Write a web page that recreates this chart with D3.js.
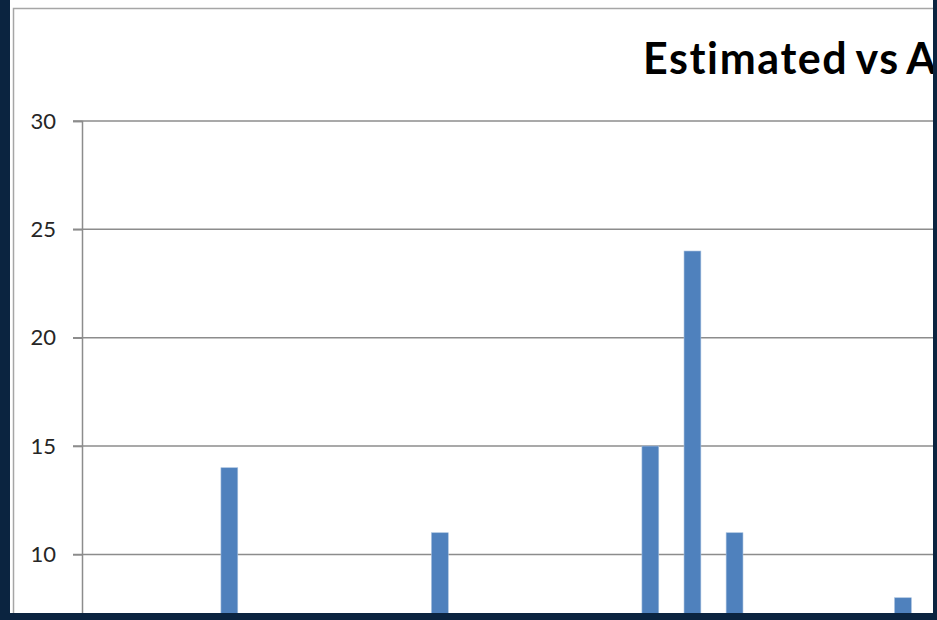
<!DOCTYPE html>
<html>
<head>
<meta charset="utf-8">
<script src="https://cdn.jsdelivr.net/npm/d3@7"></script>
<style>
  html, body { margin: 0; padding: 0; background: #0b2440; }
  svg { display: block; }
</style>
</head>
<body>
<svg id="chart" width="937" height="620"></svg>
<script>
// categories along the x axis (labels sit below the visible crop)
let categories = d3.range(1, 22).map(d => 'Item ' + d)
// estimated values, null where there is no bar
let estimated = [null, null, null, 14, null, null, null, null, 11, null,
                 null, null, null, 15, 24, 11, null, null, null, 8, null]
let yTicks = [10, 15, 20, 25, 30]
let titleText = 'Estimated vs Actual'

let data = categories.map((c, i) => ({cat: c, value: estimated[i]}))

let svg = d3.select('svg#chart')

// white chart sheet
svg.append('rect')
  .attr('x', 10).attr('y', 0)
  .attr('width', 925).attr('height', 614)
  .attr('fill', 'white')

// outer chart border
svg.append('rect')
  .attr('x', 13.5).attr('y', 8.5)
  .attr('width', 960).attr('height', 700)
  .attr('fill', 'none')
  .attr('stroke', '#a6a6a6')
  .attr('stroke-width', 1.5)

let plotLeft = 82, plotTop = 121, step = 42.1

let xScale = d3.scaleBand()
  .domain(categories)
  .range([plotLeft, plotLeft + step * categories.length])
  .paddingInner(0.6)
  .paddingOuter(0.3)

let yScale = d3.scaleLinear()
  .domain([0, 30])
  .range([plotTop + 30 * 21.67, plotTop])

// gridlines
svg.append('g')
  .attr('class', 'grid')
  .selectAll('line')
  .data(yTicks)
  .enter()
  .append('line')
  .attr('x1', plotLeft - 9)
  .attr('x2', 1000)
  .attr('y1', d => yScale(d))
  .attr('y2', d => yScale(d))
  .attr('stroke', '#8c8c8c')
  .attr('stroke-width', 1.5)

// y axis
let yAxis = svg.append('g')
  .attr('transform', `translate(${plotLeft}, 0)`)
  .call(d3.axisLeft(yScale).tickValues(yTicks).tickSize(9).tickPadding(17))

yAxis.select('.domain').attr('stroke', '#8c8c8c').attr('stroke-width', 1.5)
yAxis.selectAll('.tick line').attr('stroke', '#8c8c8c').attr('stroke-width', 1.5)
yAxis.selectAll('.tick text')
  .attr('font-family', 'Lato, sans-serif')
  .attr('font-size', 22)
  .attr('fill', '#262626')

// bars
svg.selectAll('.bar')
  .data(data.filter(d => d.value != null))
  .enter()
  .append('rect')
  .attr('class', 'bar')
  .attr('x', d => xScale(d.cat))
  .attr('y', d => yScale(d.value))
  .attr('width', xScale.bandwidth())
  .attr('height', d => yScale(0) - yScale(d.value))
  .attr('fill', '#4f81bd')
  .attr('stroke', '#a7c0de')
  .attr('stroke-width', 0.6)

// title (runs off the right edge, as in the cropped screenshot)
svg.append('text')
  .attr('x', 643)
  .attr('y', 74)
  .attr('font-family', 'Lato, sans-serif')
  .attr('font-size', 43)
  .attr('font-weight', 'bold')
  .attr('letter-spacing', 1.6)
  .attr('word-spacing', -4)
  .attr('fill', '#000')
  .text(titleText)

// dark frame around the cropped screenshot
svg.append('rect').attr('x', 0).attr('y', 0).attr('width', 10).attr('height', 620).attr('fill', '#0b2440')
svg.append('rect').attr('x', 0).attr('y', 613).attr('width', 937).attr('height', 7).attr('fill', '#0b2440')
svg.append('rect').attr('x', 933).attr('y', 0).attr('width', 4).attr('height', 620).attr('fill', '#0b2440')
</script>
</body>
</html>
